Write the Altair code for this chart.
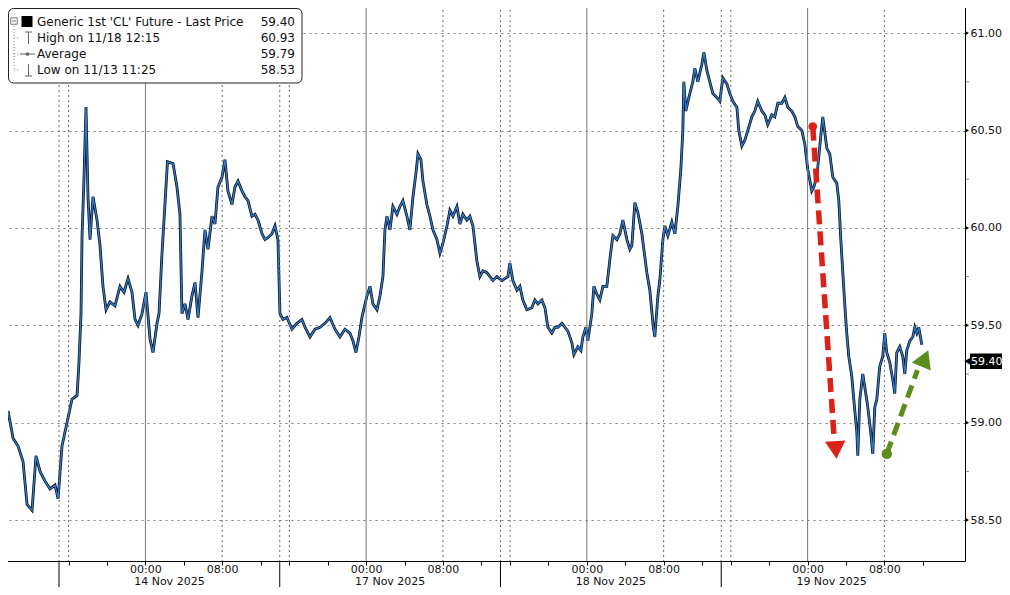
import altair as alt
import pandas as pd

# ---------------- data ----------------
# Trading-time hours since the 13 Nov 15:00 session open (each session = 23 h, breaks/weekend removed)
T_HOURS = [
    -6.15, -5.83, -5.31, -4.79, -4.27, -3.75, -3.33, -2.81, -2.40, -1.98, -1.46, -0.94, -0.42, -0.10,
    0.31, 0.83, 1.35, 1.88, 2.08, 2.29, 2.40, 2.60, 2.81, 3.02, 3.23, 3.54, 3.96, 4.27, 4.58, 4.90,
    5.31, 5.83, 6.35, 6.77, 7.19, 7.60, 7.92, 8.23, 8.65, 9.06, 9.48, 9.79, 10.21, 10.42, 10.73, 10.94,
    11.30, 11.88, 12.29, 12.60, 12.81, 13.13, 13.44, 13.85, 14.17, 14.48, 14.90, 15.21, 15.52, 15.94,
    16.25, 16.56, 16.98, 17.29, 17.60, 18.02, 18.33, 18.65, 19.06, 19.38, 19.69, 20.10, 20.42, 20.73,
    21.15, 21.46, 21.77, 22.19, 22.50, 22.81,
    23.02, 23.33, 23.75, 24.27, 24.79, 25.31, 25.63, 26.15, 26.67, 27.19, 27.71, 28.23, 28.75, 29.27,
    29.79, 30.31, 30.63, 30.94, 31.25, 31.56, 32.08, 32.40, 32.71, 33.13, 33.44, 33.75, 33.96, 34.17,
    34.48, 34.79, 35.21, 35.52, 35.83, 36.25, 36.56, 36.88, 37.19, 37.40, 37.71, 37.92, 38.33, 38.65,
    38.96, 39.38, 39.69, 40.00, 40.42, 40.73, 41.04, 41.46, 41.77, 42.08, 42.50, 42.81, 43.13, 43.54,
    43.85, 44.17, 44.58, 44.90, 45.21, 45.63,
    46.15, 46.46, 46.77, 46.98, 47.29, 47.71, 48.02, 48.33, 48.75, 49.27, 49.58, 49.90, 50.31, 50.63,
    50.94, 51.35, 51.67, 51.98, 52.40, 52.71, 53.02, 53.44, 53.65, 54.06, 54.38, 54.58, 54.90, 55.10,
    55.52, 55.73, 56.04, 56.35, 56.67, 57.08, 57.40, 57.71, 58.13, 58.44, 58.75, 59.17, 59.48, 59.69,
    60.00, 60.31, 60.73, 61.25, 61.56, 61.88, 62.08, 62.40, 62.60, 62.92, 63.13, 63.44, 63.85, 64.17,
    64.48, 64.79, 65.00, 65.10, 65.31, 65.63, 66.04, 66.25, 66.56, 66.98, 67.19, 67.50, 67.81, 68.13,
    68.54, 68.85,
    69.17, 69.58, 69.90, 70.21, 70.63, 70.83, 71.15, 71.46, 71.77, 72.19, 72.50, 72.81, 73.23, 73.54,
    73.85, 74.27, 74.58, 74.90, 75.31, 75.63, 75.94, 76.35, 76.67, 76.98, 77.40, 77.71, 78.02, 78.44,
    78.65, 78.96, 79.27, 79.58, 80.00, 80.31, 80.63, 81.04, 81.25, 81.46, 81.67, 81.88, 82.08, 82.29,
    82.60, 82.81, 83.13, 83.23, 83.44, 83.75, 84.06, 84.27, 84.58, 84.79, 85.00, 85.21, 85.52, 85.83,
    86.04, 86.25, 86.56, 86.88, 87.08, 87.29, 87.60, 87.92, 88.13, 88.33, 88.65, 88.96, 89.17, 89.38,
    89.58, 89.90,
]
PRICES = [
    58.80, 58.90, 59.06, 58.92, 58.88, 58.80, 58.58, 58.55, 58.83, 58.75, 58.70, 58.66, 58.68, 58.61,
    58.88, 59.00, 59.12, 59.14, 59.31, 59.56, 59.96, 60.25, 60.62, 60.16, 59.94, 60.16, 60.04, 59.91, 59.70, 59.58,
    59.62, 59.60, 59.70, 59.67, 59.74, 59.67, 59.53, 59.50, 59.56, 59.67, 59.43, 59.36, 59.51, 59.56, 59.87, 60.04,
    60.34, 60.33, 60.21, 60.07, 59.56, 59.61, 59.53, 59.65, 59.72, 59.54, 59.78, 59.99, 59.89, 60.06,
    60.02, 60.21, 60.26, 60.35, 60.19, 60.12, 60.21, 60.24, 60.19, 60.16, 60.14, 60.06, 60.07, 60.04,
    59.97, 59.94, 59.95, 59.97, 60.01, 59.94,
    59.56, 59.53, 59.54, 59.48, 59.51, 59.53, 59.49, 59.44, 59.48, 59.49, 59.51, 59.54, 59.48, 59.44,
    59.48, 59.46, 59.42, 59.36, 59.44, 59.54, 59.65, 59.70, 59.61, 59.58, 59.65, 59.75, 59.99, 60.06,
    59.99, 60.11, 60.07, 60.11, 60.14, 60.06, 59.99, 60.16, 60.28, 60.38, 60.35, 60.24, 60.12, 60.06,
    59.99, 59.94, 59.87, 59.92, 60.01, 60.09, 60.06, 60.11, 60.02, 60.07, 60.04, 60.06, 60.01, 59.83,
    59.75, 59.78, 59.77, 59.75, 59.73, 59.75,
    59.73, 59.74, 59.75, 59.82, 59.73, 59.68, 59.70, 59.63, 59.58, 59.59, 59.63, 59.61, 59.63, 59.59,
    59.49, 59.46, 59.49, 59.49, 59.51, 59.49, 59.47, 59.41, 59.35, 59.39, 59.37, 59.44, 59.49, 59.42,
    59.56, 59.70, 59.66, 59.63, 59.70, 59.70, 59.84, 59.96, 59.94, 59.97, 60.04, 59.94, 59.89, 59.91,
    60.13, 60.08, 59.97, 59.77, 59.68, 59.51, 59.44, 59.65, 59.73, 59.94, 60.01, 59.96, 60.03, 59.97,
    60.11, 60.30, 60.50, 60.75, 60.60, 60.67, 60.75, 60.82, 60.75, 60.84, 60.90, 60.81, 60.75, 60.69,
    60.67, 60.65,
    60.77, 60.74, 60.69, 60.65, 60.62, 60.50, 60.42, 60.45, 60.50, 60.57, 60.60, 60.65, 60.60, 60.58,
    60.53, 60.58, 60.57, 60.64, 60.64, 60.67, 60.62, 60.60, 60.57, 60.52, 60.50, 60.43, 60.30, 60.19,
    60.21, 60.26, 60.42, 60.57, 60.41, 60.38, 60.26, 60.23, 60.14, 59.94, 59.77, 59.60, 59.46, 59.34,
    59.24, 59.12, 58.95, 58.83, 59.12, 59.25, 59.15, 59.08, 58.95, 58.84, 59.08, 59.12, 59.29, 59.34,
    59.46, 59.36, 59.31, 59.22, 59.15, 59.36, 59.39, 59.34, 59.25, 59.37, 59.42, 59.44, 59.49, 59.46,
    59.49, 59.40,
]

Y_TICKS = [58.5, 59.0, 59.5, 60.0, 60.5, 61.0]
Y_MINOR = [58.75, 59.25, 59.75, 60.25, 60.75]
SESSION_START_T = [0, 23, 46, 69]
SESSION_LEN = 23
SESSION_DATES = ["14 Nov 2025", "17 Nov 2025", "18 Nov 2025", "19 Nov 2025"]
TICK_OFFSETS = [1, 5, 9, 13, 17, 21]          # 16:00, 20:00, 00:00, 04:00, 08:00, 12:00
TIME_LABELS = {9: "00:00", 17: "08:00"}

LEGEND_LABELS = ["Generic 1st 'CL' Future - Last Price", "High on 11/18 12:15",
                 "Average", "Low on 11/13 11:25"]
LEGEND_VALUES = ["59.40", "60.93", "59.79", "58.53"]
LAST_PRICE = "59.40"

# annotation arrows (trading hours, price)
RED_ARROW = {"start": (78.54, 60.52), "shaft_end": (80.75, 58.93), "head": (80.94, 58.86)}
GREEN_ARROW = {"start": (86.25, 58.84), "shaft_end": (89.45, 59.27), "head": (90.21, 59.33)}

# ---------------- layout / style ----------------
W, H = 965, 561
X_DOMAIN = [-6.15, 94.4]
Y_DOMAIN = [58.29, 61.17]
FONT = "DejaVu Sans"
BLUE = "#2b7bd8"
RED = "#dc2119"
GREEN = "#5b8c1c"

xs = alt.Scale(domain=X_DOMAIN, nice=False, zero=False)
ys = alt.Scale(domain=Y_DOMAIN, nice=False, zero=False)

df = pd.DataFrame({"t": T_HOURS, "price": PRICES})

tick_vals = [s + o for s in SESSION_START_T for o in TICK_OFFSETS]
label_expr = "".join(
    f"(datum.value % {SESSION_LEN} == {k}) ? '{v}' : " for k, v in TIME_LABELS.items()
) + "''"

x_axis = alt.Axis(values=tick_vals, labelExpr=label_expr, grid=False, tickSize=4,
                  tickColor="black", domainColor="black", labelFont=FONT, labelFontSize=11,
                  labelColor="#111", labelPadding=-2, labelOverlap=False, labelFlush=False,
                  labelBound=False, title=None)
y_axis = alt.Axis(orient="right", values=Y_TICKS, format=".2f", grid=True, gridDash=[2, 4],
                  gridColor="#7a7a7a", ticks=False, domainColor="black", labelPadding=5,
                  labelFont=FONT, labelFontSize=11, labelColor="#111", title=None)


def X(field="t"):
    return alt.X(f"{field}:Q", scale=xs, axis=x_axis)


def Y(field="price"):
    return alt.Y(f"{field}:Q", scale=ys, axis=y_axis)


def rules_df(vals):
    return pd.DataFrame({"t": vals})


midnight = [s + 9 for s in SESSION_START_T]
morning = [s + 17 for s in SESSION_START_T]
dotted_v = SESSION_START_T + [s + 1 for s in SESSION_START_T] + morning

black_line = alt.Chart(df).mark_line(color="#111", strokeWidth=2.8).encode(x=X(), y=Y())
grid_solid = alt.Chart(rules_df(midnight)).mark_rule(color="#7a7a7a", strokeWidth=1).encode(x=X())
grid_dot = alt.Chart(rules_df(dotted_v)).mark_rule(color="#666", strokeWidth=1,
                                                   strokeDash=[2, 3]).encode(x=X())
blue_line = alt.Chart(df).mark_line(color=BLUE, strokeWidth=1.3).encode(x=X(), y=Y())

# session separators below the axis
sep = alt.Chart(rules_df(SESSION_START_T)).mark_rule(color="black", strokeWidth=1).encode(
    x=X(), y=alt.value(H), y2=alt.value(H + 34))
date_df = pd.DataFrame({"t": [s + SESSION_LEN / 2 for s in SESSION_START_T], "label": SESSION_DATES})
dates = alt.Chart(date_df).mark_text(font=FONT, fontSize=11, color="#111", baseline="middle").encode(
    x=X(), y=alt.value(H + 21), text="label:N")

# y axis decorations
ytri = alt.Chart(pd.DataFrame({"v": Y_TICKS})).mark_point(
    shape="triangle-right", filled=True, color="black", size=22, opacity=1).encode(
    x=alt.value(W + 2), y=Y("v"))
yminor = alt.Chart(pd.DataFrame({"v": Y_MINOR})).mark_rule(color="#888").encode(
    x=alt.value(W + 1), x2=alt.value(W + 4), y=Y("v"))

# last price tag
tag_df = pd.DataFrame({"label": [LAST_PRICE]})
tag_rect = alt.Chart(tag_df).mark_rect(color="black").encode(
    x=alt.value(W + 5), x2=alt.value(1004), y=alt.value(353.5), y2=alt.value(369))
tag_tri = alt.Chart(tag_df).mark_point(shape="triangle-left", filled=True, color="black",
                                       size=70, opacity=1).encode(x=alt.value(W + 3), y=alt.value(361.2))
tag_txt = alt.Chart(tag_df).mark_text(font=FONT, fontSize=11, color="white", align="left",
                                      baseline="middle").encode(
    x=alt.value(W + 6), y=alt.value(361.5), text="label:N")


# arrows
def arrow(spec, color, shape, angle, width, dash, dot_size, head_size):
    pts = pd.DataFrame({"t": [spec["start"][0], spec["shaft_end"][0]],
                        "price": [spec["start"][1], spec["shaft_end"][1]], "o": [0, 1]})
    shaft = alt.Chart(pts).mark_line(color=color, strokeWidth=width, strokeDash=dash,
                                     strokeCap="butt").encode(x=X(), y=Y(), order="o:Q")
    dot = alt.Chart(pts.iloc[[0]]).mark_point(shape="circle", filled=True, color=color,
                                               size=dot_size, opacity=1).encode(x=X(), y=Y())
    hd = pd.DataFrame({"t": [spec["head"][0]], "price": [spec["head"][1]]})
    head = alt.Chart(hd).mark_point(shape=shape, angle=angle, filled=True, color=color,
                                    size=head_size, opacity=1).encode(x=X(), y=Y())
    return [shaft, dot, head]


red = arrow(RED_ARROW, RED, "triangle-down", 356, 5.5, [14, 7], 75, 420)
green = arrow(GREEN_ARROW, GREEN, "triangle-up", 23, 5, [13, 7], 110, 420)

# legend box
one = pd.DataFrame({"k": [0]})
leg = [alt.Chart(one).mark_rect(fill="white", stroke="#222", strokeWidth=1, cornerRadius=5).encode(
    x=alt.value(8.5), x2=alt.value(302), y=alt.value(8.5), y2=alt.value(83))]
row_y = [22 + 16 * i for i in range(len(LEGEND_LABELS))]
for lab, val, yy in zip(LEGEND_LABELS, LEGEND_VALUES, row_y):
    d = pd.DataFrame({"label": [lab], "value": [val]})
    leg.append(alt.Chart(d).mark_text(font=FONT, fontSize=12, color="#111", align="left",
                                      baseline="middle").encode(
        x=alt.value(37), y=alt.value(yy), text="label:N"))
    leg.append(alt.Chart(d).mark_text(font=FONT, fontSize=12, color="#111", align="right",
                                      baseline="middle").encode(
        x=alt.value(295), y=alt.value(yy), text="value:N"))
GRAY = "#8a8a8a"


def seg(x1, x2, y1, y2, color=GRAY, dash=None, w=1):
    kw = dict(color=color, strokeWidth=w)
    if dash:
        kw["strokeDash"] = dash
    return alt.Chart(one).mark_rule(**kw).encode(
        x=alt.value(x1), x2=alt.value(x2), y=alt.value(y1), y2=alt.value(y2))


# tree
leg.append(seg(14, 14, 26, row_y[3], dash=[1, 2]))
for yy in row_y[1:]:
    leg.append(seg(14, 20, yy, yy, dash=[1, 2]))
leg.append(alt.Chart(one).mark_point(shape="square", filled=False, color="#777", size=42,
                                     strokeWidth=1, opacity=1).encode(x=alt.value(14), y=alt.value(21)))
leg.append(seg(12, 16, 21, 21, color="#777"))
leg.append(alt.Chart(one).mark_point(shape="square", filled=True, color="black", size=121,
                                     opacity=1).encode(x=alt.value(27), y=alt.value(21.5)))
# high icon
leg.append(seg(25, 32, row_y[1] - 6, row_y[1] - 6, color="#666"))
leg.append(seg(28.5, 28.5, row_y[1] - 6, row_y[1] + 6, color="#666"))
# average icon
leg.append(seg(20, 35, row_y[2], row_y[2], color="#666"))
leg.append(alt.Chart(one).mark_point(shape="circle", filled=True, color="#666", size=14,
                                     opacity=1).encode(x=alt.value(27.5), y=alt.value(row_y[2])))
# low icon
leg.append(seg(28.5, 28.5, row_y[3] - 6, row_y[3] + 6, color="#666"))
leg.append(seg(25, 32, row_y[3] + 6, row_y[3] + 6, color="#666"))

chart = alt.layer(
    black_line, grid_solid, grid_dot, blue_line, sep, dates, ytri, yminor,
    tag_rect, tag_tri, tag_txt, *red, *green, *leg
).properties(
    width=W, height=H,
    autosize=alt.AutoSizeParams(type="none"),
    padding={"left": -8, "top": -8, "right": 37, "bottom": 26},
    background="white",
).configure_view(stroke=None)

chart.save("out.html", embed_options={"renderer": "svg", "actions": False})
